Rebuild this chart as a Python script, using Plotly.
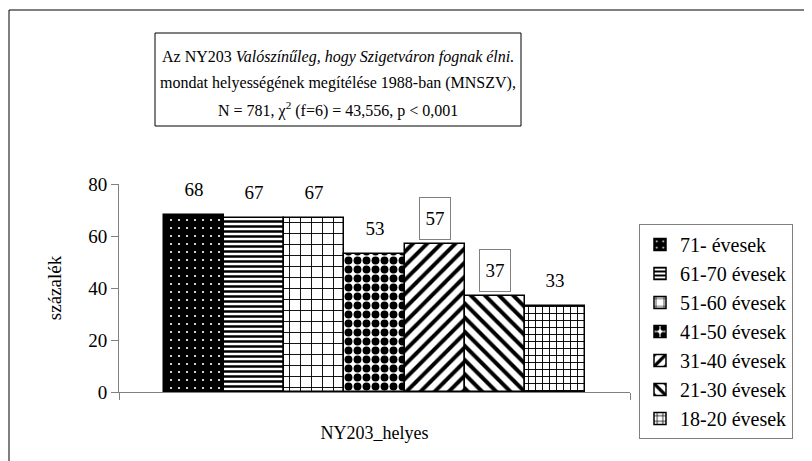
import plotly.graph_objects as go

# age groups and the share who judged the sentence correct
groups = ["71- évesek", "61-70 évesek", "51-60 évesek", "41-50 évesek",
          "31-40 évesek", "21-30 évesek", "18-20 évesek"]
values = [68, 67, 67, 53, 57, 37, 33]
yTicks = [0, 20, 40, 60, 80]

titleLines = ["Az NY203 <i>Valószínűleg, hogy Szigetváron fognak élni.</i>",
              "mondat helyességének megítélése 1988-ban (MNSZV),",
              "N = 781, χ<sup>2</sup> (f=6) = 43,556, p < 0,001"]
xTitle = "NY203_helyes"
yTitle = "százalék"

fontName = "Times New Roman"
black = "#000000"
grey = "#808080"

# pattern per bar: shape, background, foreground, size, solidity
patterns = [(".",  black,  "white", 8,  0.06),
            ("-",  "white", black,  5,  0.5),
            ("+",  "white", black,  11, 0.16),
            (".",  "white", black,  9,  0.6),
            ("/",  "white", black,  10, 0.4),
            ("\\", "white", black,  10, 0.4),
            ("+",  "white", black,  7,  0.25)]
boxedLabels = {4, 5}

# the page puts the figure 8px in from the window corner
OFF = 8
W, H = 812 - OFF, 461 - OFF
# pixel geometry of the plot area (window coordinates)
L, R, T, B = 119, 630, 184, 392
def px(x):
    return (x - L) / (R - L)
def py(y):
    return (B - y) / (B - T)

fig = go.Figure()
for i, (name, val) in enumerate(zip(groups, values)):
    shape, bg, fg, size, sol = patterns[i]
    fig.add_trace(go.Bar(
        x=[i], y=[val], name=name, width=1,
        marker=dict(color=bg, line=dict(color=black, width=1.5),
                    pattern=dict(shape=shape, bgcolor=bg, fgcolor=fg,
                                 fgopacity=1, size=size, solidity=sol,
                                 fillmode="overlay")),
        hoverinfo="skip"))
    fig.add_annotation(
        x=i, y=val, xref="x", yref="y", text=str(val), showarrow=False,
        yanchor="bottom", yshift=4, width=28, height=39, borderpad=1,
        bordercolor=grey if i in boxedLabels else "rgba(0,0,0,0)",
        borderwidth=1, font=dict(family=fontName, size=19, color=black))

# title box
fig.add_shape(type="rect", xref="paper", yref="paper",
              x0=px(155), x1=px(521), y0=py(126), y1=py(33),
              line=dict(color=black, width=1), fillcolor="white", layer="below")
for line, yc in zip(titleLines, [57, 83, 110]):
    fig.add_annotation(text=line, xref="paper", yref="paper",
                       x=px(338), y=py(yc), showarrow=False,
                       xanchor="center", yanchor="middle",
                       font=dict(family=fontName, size=16, color=black))

# outer chart border (right and bottom edges fall off the picture)
fig.add_shape(type="rect", xref="paper", yref="paper",
              x0=px(9), x1=px(840), y0=py(480), y1=py(10),
              line=dict(color=black, width=1), layer="below")

fig.update_layout(
    width=W, height=H,
    margin=dict(l=L - OFF, r=W - (R - OFF), t=T - OFF, b=H - (B - OFF), pad=0),
    paper_bgcolor="white", plot_bgcolor="white",
    barmode="overlay", bargap=0,
    font=dict(family=fontName, size=18, color=black),
    showlegend=True,
    legend=dict(x=px(639), y=py(224), xanchor="left", yanchor="top",
                bordercolor=grey, borderwidth=1, bgcolor="white",
                font=dict(family=fontName, size=20, color=black),
                itemwidth=30, traceorder="normal", maxheight=300),
    xaxis=dict(range=[-1.24, 7.24], showgrid=False, zeroline=False,
               showline=True, linecolor=grey, linewidth=1,
               tickmode="array", tickvals=[-1.24, 7.24], showticklabels=False,
               ticks="outside", ticklen=7, tickcolor=grey,
               title=dict(text=xTitle, standoff=27,
                          font=dict(family=fontName, size=18))),
    yaxis=dict(range=[0, 80], showgrid=False, zeroline=False,
               showline=True, linecolor=grey, linewidth=1,
               tickmode="array", tickvals=yTicks,
               ticks="outside", ticklen=7, tickcolor=grey,
               tickfont=dict(family=fontName, size=19),
               title=dict(text=yTitle, standoff=21,
                          font=dict(family=fontName, size=19))),
)

fig.write_html("out.html")
